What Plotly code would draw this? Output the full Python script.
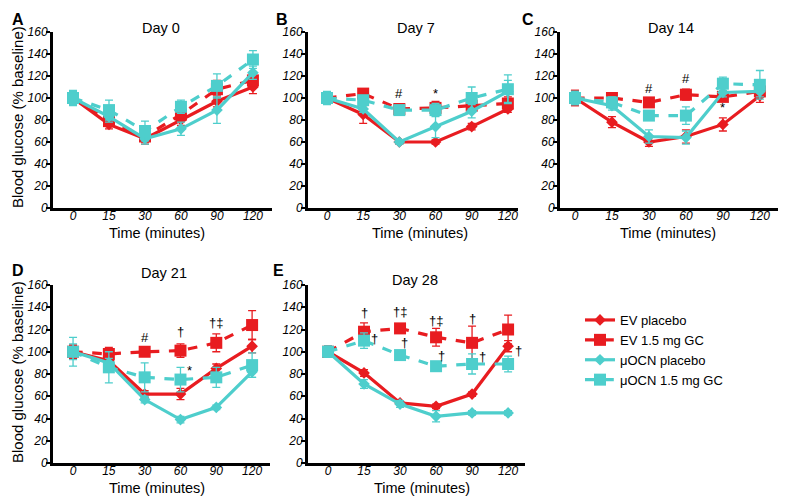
import plotly.graph_objects as go

# The page body has an 8px margin, so the figure is sized to fill the rest of the window
W, H = 779, 493
OFF = 8

times = ["0", "15", "30", "60", "90", "120"]
series_names = ["EV placebo", "EV 1.5 mg GC", "\u03bcOCN placebo", "\u03bcOCN 1.5 mg GC"]
panel_titles = ["Day 0", "Day 7", "Day 14", "Day 21", "Day 28"]
panel_letters = ["A", "B", "C", "D", "E"]

# values per panel: [EV placebo, EV GC, uOCN placebo, uOCN GC]
day0_vals = [
    [100, 76, 63, 80, 97, 110],
    [100, 79, 65, 85, 108, 116],
    [100, 83, 63, 72, 89, 123],
    [100, 89, 70, 92, 111, 135],
]
day0_err = [
    [6, 4, 5, 5, 5, 6],
    [6, 5, 5, 5, 8, 6],
    [6, 5, 5, 6, 12, 6],
    [7, 9, 9, 6, 11, 8],
]
day7_vals = [
    [100, 85, 60, 60, 74, 90],
    [100, 104, 90, 91, 93, 95],
    [100, 90, 60, 74, 88, 106],
    [100, 98, 89, 89, 100, 108],
]
day7_err = [
    [5, 8, 2, 2, 3, 3],
    [5, 4, 3, 6, 5, 6],
    [5, 3, 2, 10, 6, 10],
    [6, 4, 4, 6, 10, 13],
]
day14_vals = [
    [100, 78, 60, 65, 76, 102],
    [100, 100, 96, 103, 101, 106],
    [100, 93, 65, 64, 105, 106],
    [100, 96, 84, 84, 113, 112],
]
day14_err = [
    [7, 5, 4, 6, 6, 6],
    [7, 3, 4, 5, 4, 5],
    [6, 4, 6, 6, 4, 5],
    [6, 5, 4, 8, 6, 13],
]
day21_vals = [
    [100, 92, 62, 62, 85, 105],
    [100, 98, 100, 101, 108, 124],
    [100, 90, 57, 39, 50, 82],
    [100, 86, 77, 75, 77, 88],
]
day21_err = [
    [6, 5, 3, 5, 4, 6],
    [6, 6, 4, 6, 8, 13],
    [7, 4, 3, 3, 2, 5],
    [13, 14, 13, 11, 9, 11],
]
day28_vals = [
    [100, 81, 54, 51, 62, 105],
    [100, 118, 121, 113, 108, 120],
    [100, 71, 53, 42, 45, 45],
    [100, 110, 97, 87, 89, 89],
]
day28_err = [
    [5, 3, 2, 2, 2, 5],
    [5, 8, 3, 8, 15, 13],
    [5, 4, 3, 5, 2, 2],
    [5, 7, 3, 3, 9, 7],
]
panel_vals = [day0_vals, day7_vals, day14_vals, day21_vals, day28_vals]
panel_err = [day0_err, day7_err, day14_err, day21_err, day28_err]

# significance marks: panel index, x position (category index), y value (centre), text
sig_panel = [1, 1, 2, 2, 2, 3, 3, 3, 3, 4, 4, 4, 4, 4, 4, 4, 4, 4]
sig_x = [2, 3, 2, 3, 4, 2, 3, 4, 3.25, 1, 2, 3, 4, 1.3, 2.12, 3.14, 4.3, 5.3]
sig_y = [104, 104.5, 109, 118, 91, 112.5, 118, 126, 83.5, 135, 136, 128.5, 130, 111.5, 108, 97, 96, 101]
sig_text = ["#", "*", "#", "#", "*", "#", "\u2020", "\u2020\u2021", "*",
            "\u2020", "\u2020\u2021", "\u2020\u2021", "\u2020",
            "\u2020", "\u2020", "\u2020", "\u2020", "\u2020"]

RED = "rgb(232,28,32)"
CYAN = "rgb(78,206,204)"
colors = [RED, RED, CYAN, CYAN]
dashes = ["solid", "dash", "solid", "dash"]
symbols = ["diamond", "square", "diamond", "square"]
msizes = [9, 12, 9, 12]

# page-pixel geometry: (x_axis_left, x_axis_right, y_top(160), y_bottom(0), range_lo, range_hi)
geom = [
    (53, 272, 32, 208, -0.556, 5.53),
    (308, 518, 32, 208, -0.525, 5.28),
    (560, 778, 32, 208, -0.405, 5.49),
    (53, 270, 285, 463, -0.56, 5.5),
    (308, 525, 285, 463, -0.556, 5.47),
]
title_pos = [(161, 28), (416, 28), (671, 28), (164, 273), (415, 280)]
letter_pos = [(18, 8.5), (282, 8.5), (528, 8.5), (18, 260), (278, 260)]
xtitle_pos = [(157, 233), (420, 233), (668, 233), (157, 488), (422, 488)]
ytitle_pos = [(17, 117), None, None, (17, 372), None]


def fx(px):
    return (px - OFF) / W


def fy(py):
    return 1 - (py - OFF) / H


fig = go.Figure()
FONT = "Liberation Sans, Arial, sans-serif"
xs = list(range(len(times)))

for p in range(5):
    xa = "x" if p == 0 else f"x{p+1}"
    ya = "y" if p == 0 else f"y{p+1}"
    for s in range(4):
        fig.add_trace(go.Scatter(
            x=xs, y=panel_vals[p][s], xaxis=xa, yaxis=ya,
            mode="lines+markers",
            name=series_names[s], legendgroup=series_names[s],
            showlegend=(p == 0),
            line=dict(color=colors[s], width=3.2, dash=dashes[s]),
            marker=dict(symbol=symbols[s], size=msizes[s], color=colors[s]),
            error_y=dict(type="data", array=panel_err[p][s], color=colors[s],
                         thickness=1.3, width=4),
        ))

layout = dict(
    width=W, height=H, margin=dict(l=0, r=0, t=0, b=0, autoexpand=False),
    plot_bgcolor="white", paper_bgcolor="white",
    font=dict(family=FONT, color="black"),
    showlegend=True,
    legend=dict(x=fx(580), y=fy(305), xanchor="left", yanchor="top",
                font=dict(size=13, family=FONT, color="black"), tracegroupgap=0,
                bgcolor="rgba(0,0,0,0)", itemwidth=30),
)
annotations = []
for p in range(5):
    xl, xr, yt, yb, lo, hi = geom[p]
    xk = "xaxis" if p == 0 else f"xaxis{p+1}"
    yk = "yaxis" if p == 0 else f"yaxis{p+1}"
    yref = "y" if p == 0 else f"y{p+1}"
    xref = "x" if p == 0 else f"x{p+1}"
    layout[xk] = dict(
        domain=[fx(xl), fx(xr)], anchor=yref, range=[lo, hi],
        tickmode="array", tickvals=xs, ticktext=times,
        showline=True, linecolor="black", linewidth=3,
        ticks="", ticklen=0, showgrid=False, zeroline=False, automargin=False,
        ticklabelstandoff=-5,
        tickfont=dict(size=12, style="italic", family=FONT, color="black"),
    )
    layout[yk] = dict(
        domain=[fy(yb), fy(yt)], anchor=xref, range=[0, 160],
        tickmode="array", tickvals=list(range(0, 161, 20)),
        showline=True, linecolor="black", linewidth=3,
        ticks="outside", ticklen=4, tickwidth=2, tickcolor="black",
        showgrid=False, zeroline=False, automargin=False,
        ticklabelstandoff=-4,
        tickfont=dict(size=12, style="italic", family=FONT, color="black"),
    )
    if ytitle_pos[p] is not None:
        annotations.append(dict(
            text="Blood glucose (% baseline)", x=fx(ytitle_pos[p][0]), y=fy(ytitle_pos[p][1]),
            xref="paper", yref="paper", xanchor="center", yanchor="middle",
            textangle=-90, showarrow=False,
            font=dict(size=15, family=FONT, color="black")))
    annotations.append(dict(
        text="Time (minutes)", x=fx(xtitle_pos[p][0]), y=fy(xtitle_pos[p][1]),
        xref="paper", yref="paper", xanchor="center", yanchor="middle",
        showarrow=False, font=dict(size=14.5, family=FONT, color="black")))
    annotations.append(dict(
        text=panel_titles[p], x=fx(title_pos[p][0]), y=fy(title_pos[p][1]),
        xref="paper", yref="paper", xanchor="center", yanchor="middle",
        showarrow=False, font=dict(size=14.5, family=FONT, color="black")))
    annotations.append(dict(
        text="<b>" + panel_letters[p] + "</b>", x=fx(letter_pos[p][0]), y=fy(letter_pos[p][1]),
        xref="paper", yref="paper", xanchor="center", yanchor="top",
        showarrow=False, font=dict(size=16, family=FONT, color="black")))

for i in range(len(sig_text)):
    p = sig_panel[i]
    annotations.append(dict(
        text=sig_text[i], x=sig_x[i], y=sig_y[i],
        xref=("x" if p == 0 else f"x{p+1}"), yref=("y" if p == 0 else f"y{p+1}"),
        showarrow=False, font=dict(size=13, family=FONT, color="black"),
        yanchor="middle"))

layout["annotations"] = annotations
fig.update_layout(**layout)
fig.write_html("out.html")
